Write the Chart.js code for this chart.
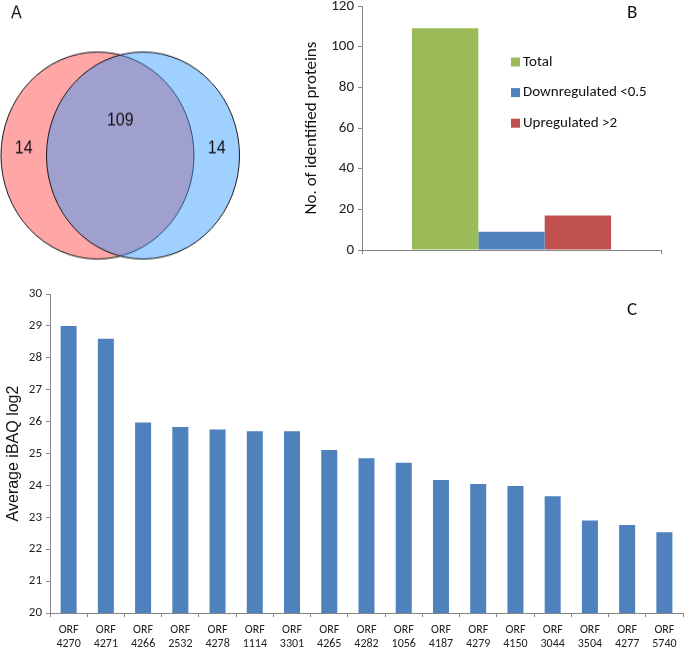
<!DOCTYPE html>
<html>
<head>
<meta charset="utf-8">
<script src="https://cdn.jsdelivr.net/npm/chart.js@4.4.1/dist/chart.umd.min.js"></script>
<style>
  body { margin: 0; background: #fff; }
  #fig { position: relative; width: 685px; height: 650px; }
  canvas { position: absolute; }
  #vennA { left: 0; top: 0; transform: scaleY(1.0725); transform-origin: 0 0; }
  #barsB { left: 290px; top: 0; }
  #barsC { left: 0; top: 280px; }
</style>
</head>
<body>
<div id="fig">
  <canvas id="vennA" width="245" height="252"></canvas>
  <canvas id="barsB" width="395" height="270"></canvas>
  <canvas id="barsC" width="685" height="370"></canvas>
</div>
<script>
'use strict';

// A - venn
const vennSets = ['Set 1', 'Set 2'];
const vennCounts = [14, 109, 14]; // left only, shared, right only

// B - identified proteins
const bSeries = ['Total', 'Downregulated <0.5', 'Upregulated >2'];
const bValues = [109, 9, 17];
const bTicks = [0, 20, 40, 60, 80, 100, 120];

// C - average iBAQ
const cOrfs = ['4270', '4271', '4266', '2532', '4278', '1114', '3301', '4265', '4282',
               '1056', '4187', '4279', '4150', '3044', '3504', '4277', '5740'];
const cValues = [29.0, 28.6, 25.97, 25.83, 25.75, 25.7, 25.7, 25.11, 24.85,
                 24.71, 24.17, 24.04, 23.98, 23.66, 22.9, 22.76, 22.53];
const cTicks = [20, 21, 22, 23, 24, 25, 26, 27, 28, 29, 30];

const vennColors = ['rgb(255,166,166)', 'rgba(48,153,255,0.46)'];
const bColors = ['#9BBB59', '#4F81BD', '#C0504D'];
const axisGray = '#868686';
const calibriLike = 'Carlito, Lato, sans-serif';
const arialLike = 'Liberation Sans, Arial, sans-serif';

const vennLabels = {
    id: 'vennLabels',
    afterDatasetsDraw(chart) {
        const [a, b] = chart.getDatasetMeta(0).data;
        const r = a.options.radius;
        const ctx = chart.ctx;
        const xs = [(a.x + b.x) / 2 - r, (a.x + b.x) / 2, (a.x + b.x) / 2 + r];
        const ys = [a.y - 0.07 * r, a.y - 0.34 * r, a.y - 0.07 * r];
        ctx.save();
        ctx.fillStyle = '#111';
        ctx.font = '16px ' + arialLike;
        ctx.textAlign = 'center';
        ctx.textBaseline = 'middle';
        vennCounts.forEach((n, i) => ctx.fillText(String(n), xs[i], ys[i]));
        ctx.textAlign = 'left';
        ctx.fillText('A', 11, 13);
        ctx.restore();
    }
};

new Chart(document.getElementById('vennA'), {
    type: 'bubble',
    data: {
        datasets: [{
            data: vennSets.map((s, i) => ({x: i, y: 0, r: 96.5})),
            backgroundColor: vennColors,
            borderColor: '#1a1a1a',
            borderWidth: 1,
            hoverRadius: 0,
            clip: false
        }]
    },
    options: {
        responsive: false,
        animation: false,
        events: [],
        layout: {padding: 0, autoPadding: false},
        scales: {
            x: {type: 'linear', display: false, min: -2.143, max: 3.242},
            y: {type: 'linear', display: false, min: -0.4246, max: 0.5754}
        },
        plugins: {legend: {display: false}, tooltip: {enabled: false}}
    },
    plugins: [vennLabels]
});

const legendB = {
    id: 'legendB',
    afterDraw(chart) {
        const ctx = chart.ctx;
        const x = chart.chartArea.left + 149;
        ctx.save();
        ctx.font = '15px ' + calibriLike;
        ctx.textBaseline = 'middle';
        chart.data.datasets.forEach((ds, i) => {
            const y = chart.chartArea.top + 56 + i * 30.6;
            ctx.fillStyle = ds.backgroundColor;
            ctx.fillRect(x, y - 4.5, 9, 9);
            ctx.fillStyle = '#111';
            ctx.fillText(ds.label, x + 12, y);
        });
        ctx.font = '19px ' + calibriLike;
        ctx.textBaseline = 'alphabetic';
        ctx.fillText('B', 337, 17.5);
        ctx.restore();
    }
};

new Chart(document.getElementById('barsB'), {
    type: 'bar',
    data: {
        labels: [''],
        datasets: bSeries.map((name, i) => ({
            label: name,
            data: [bValues[i]],
            backgroundColor: bColors[i],
            categoryPercentage: 0.666,
            barPercentage: 1
        }))
    },
    options: {
        responsive: false,
        animation: false,
        events: [],
        layout: {padding: {top: 6, right: 24, left: 0, bottom: 0}},
        scales: {
            x: {
                grid: {drawOnChartArea: false, tickLength: 4, color: axisGray},
                border: {color: axisGray},
                ticks: {display: false},
                afterFit: s => { s.height = 20; s.paddingLeft = 0; s.paddingRight = 0; }
            },
            y: {
                min: 0,
                max: 120,
                afterBuildTicks: s => { s.ticks = bTicks.map(v => ({value: v})); },
                grid: {drawOnChartArea: false, tickLength: 4, color: axisGray},
                border: {color: axisGray},
                ticks: {font: {family: calibriLike, size: 15}, color: '#222', padding: 4},
                title: {
                    display: true,
                    text: 'No. of identified proteins',
                    font: {family: calibriLike, size: 17},
                    color: '#111',
                    padding: {top: 12}
                },
                afterFit: s => { s.width = 72; s.paddingTop = 0; s.paddingBottom = 0; }
            }
        },
        plugins: {legend: {display: false}, tooltip: {enabled: false}}
    },
    plugins: [legendB]
});

const letterC = {
    id: 'letterC',
    afterDraw(chart) {
        const ctx = chart.ctx;
        ctx.save();
        ctx.fillStyle = '#111';
        ctx.font = '19px ' + calibriLike;
        ctx.fillText('C', 627, 35);
        ctx.restore();
    }
};

new Chart(document.getElementById('barsC'), {
    type: 'bar',
    data: {
        labels: cOrfs.map(n => ['ORF', n]),
        datasets: [{
            label: 'Average iBAQ log2',
            data: cValues,
            backgroundColor: '#4F81BD',
            categoryPercentage: 1,
            barPercentage: 0.43
        }]
    },
    options: {
        responsive: false,
        animation: false,
        events: [],
        layout: {padding: {top: 14, right: 2, left: 0, bottom: 0}},
        scales: {
            x: {
                grid: {drawOnChartArea: false, tickLength: 4, color: axisGray},
                border: {color: axisGray},
                ticks: {
                    font: {family: calibriLike, size: 12, lineHeight: 1.17},
                    color: '#222',
                    padding: 6,
                    autoSkip: false,
                    maxRotation: 0
                },
                afterFit: s => { s.height = 37; s.paddingLeft = 0; s.paddingRight = 0; }
            },
            y: {
                min: 20,
                max: 30,
                afterBuildTicks: s => { s.ticks = cTicks.map(v => ({value: v})); },
                grid: {drawOnChartArea: false, tickLength: 4, color: axisGray},
                border: {color: axisGray},
                ticks: {font: {family: calibriLike, size: 13}, color: '#222', padding: 4},
                title: {
                    display: true,
                    text: 'Average iBAQ log2',
                    font: {family: arialLike, size: 16},
                    color: '#111',
                    padding: {top: 4}
                },
                afterFit: s => { s.width = 50; s.paddingTop = 0; s.paddingBottom = 0; }
            }
        },
        plugins: {legend: {display: false}, tooltip: {enabled: false}}
    },
    plugins: [letterC]
});
</script>
</body>
</html>
